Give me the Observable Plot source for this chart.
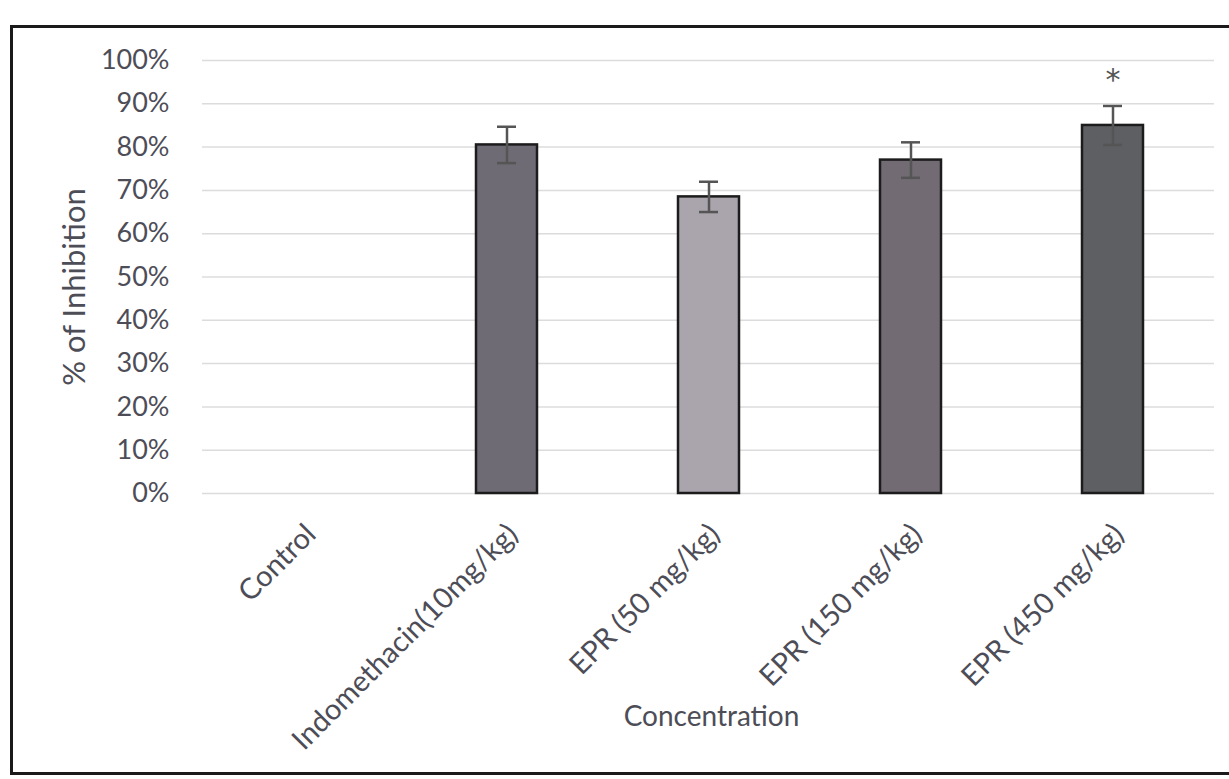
<!DOCTYPE html>
<html>
<head>
<meta charset="utf-8">
<script src="https://cdn.jsdelivr.net/npm/d3@7"></script>
<script src="https://cdn.jsdelivr.net/npm/@observablehq/plot@0.6"></script>
<style>
  html, body { margin: 0; padding: 0; background: #ffffff; }
  #wrap { position: relative; width: 1229px; height: 779px; overflow: hidden; background: #fff; }
  #frame { position: absolute; left: 10px; top: 25px; width: 1240px; height: 750px; border: 3px solid #1a1a1a; box-sizing: border-box; pointer-events: none; }
  #chart { position: absolute; left: 0; top: 0; }
</style>
</head>
<body>
<div id="wrap">
  <div id="chart"></div>
  <div id="frame"></div>
</div>
<script>
const categories = ["Control", "Indomethacin(10mg/kg)", "EPR (50 mg/kg)", "EPR (150 mg/kg)", "EPR (450 mg/kg)"];
const inhibition = [0, 0.805, 0.685, 0.77, 0.85];
const errors = [0, 0.042, 0.035, 0.041, 0.045];
const barColors = ["#7a7580", "#6f6b74", "#aaa4ad", "#726b73", "#5d5f62"];
const markers = ["", "", "", "", "*"];
const yTicks = [0, 0.1, 0.2, 0.3, 0.4, 0.5, 0.6, 0.7, 0.8, 0.9, 1.0];

const data = categories.map((c, i) => ({
  cat: c, v: inhibition[i], e: errors[i], color: barColors[i], mark: markers[i]
}));
const bars = data.filter(d => d.v > 0);

const font = "Lato, 'Open Sans', sans-serif";
const textColor = "#4d4d57";

const chart = Plot.plot({
  width: 1229,
  height: 779,
  marginLeft: 202,
  marginRight: 15,
  marginTop: 60,
  marginBottom: 286,
  style: { fontFamily: font, color: textColor, background: "transparent" },
  x: { domain: categories, paddingInner: 0.70, paddingOuter: 0.35, label: null },
  y: { domain: [0, 1], label: null },
  marks: [
    Plot.ruleY(yTicks, { stroke: "#dcdcdc", strokeWidth: 1.5 }),
    Plot.axisY({ ticks: yTicks, tickFormat: d => Math.round(d * 100) + "%", tickSize: 0, tickPadding: 33, fontSize: 27, fill: textColor, label: null }),
    Plot.axisX({ tickSize: 0, tickRotate: -45, fontSize: 29, fill: textColor, tickPadding: 22, dx: 6, dy: 14, label: null }),
    Plot.barY(bars, { x: "cat", y: "v", fill: "color", stroke: "#1c1c1c", strokeWidth: 2.5 }),
    Plot.ruleX(bars, { x: "cat", y1: d => d.v - d.e, y2: d => d.v + d.e, stroke: "#555", strokeWidth: 2.5 }),
    Plot.tickY(bars, { x: "cat", y: d => d.v + d.e, stroke: "#555", strokeWidth: 2.5, inset: 21 }),
    Plot.tickY(bars, { x: "cat", y: d => d.v - d.e, stroke: "#555", strokeWidth: 2.5, inset: 21 }),
    Plot.text(data.filter(d => d.mark), { x: "cat", y: d => d.v + d.e, text: "mark", dy: -26, fontSize: 30, fontFamily: "DejaVu Sans", fill: "#555" }),
    Plot.text(["% of Inhibition"], { frameAnchor: "left", textAnchor: "middle", dx: -127, dy: 10, rotate: -90, fontSize: 31, fill: textColor }),
    Plot.text(["Concentration"], { frameAnchor: "bottom", dy: 232, dx: 3, fontSize: 28, fill: textColor })
  ]
});
document.getElementById("chart").appendChild(chart);
</script>
</body>
</html>
